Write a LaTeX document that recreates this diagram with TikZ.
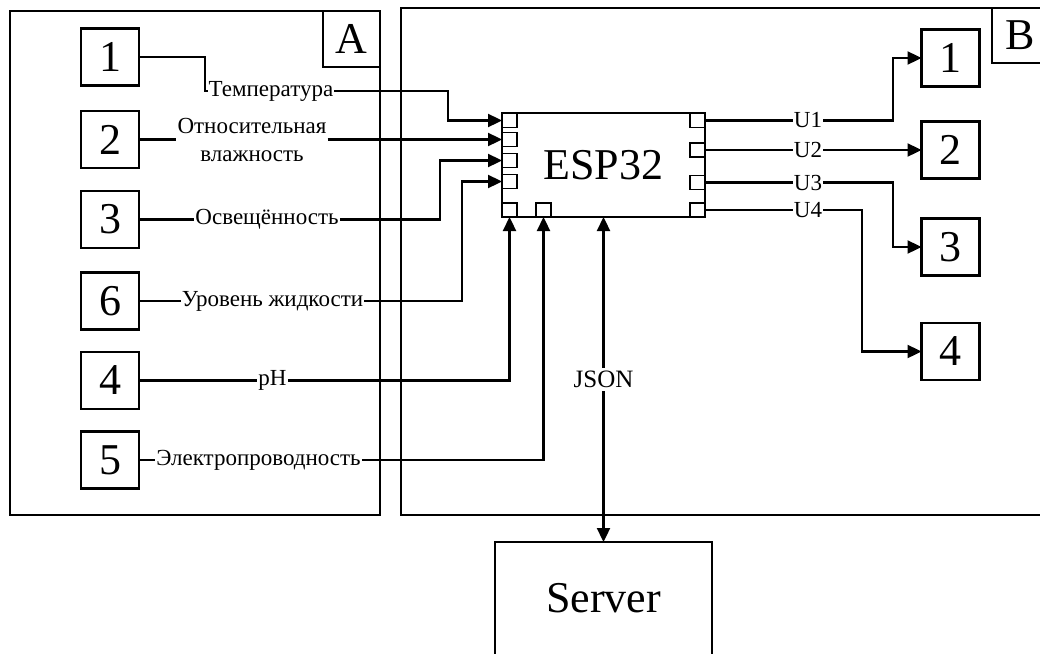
\documentclass[tikz,border=0pt]{standalone}
\usepackage{fontspec}
\setmainfont{Liberation Serif}
\usetikzlibrary{arrows.meta}

\begin{document}
\begin{tikzpicture}[
    x=1pt, y=-1pt,
    frame/.style={rectangle, draw, line width=2.4pt, inner sep=0pt, outer sep=0pt},
    tag/.style={frame, minimum width=56pt, minimum height=55pt, font=\fontsize{44}{44}\selectfont},
    unit/.style={frame, minimum width=58pt, minimum height=57pt, font=\fontsize{44}{44}\selectfont},
    pin/.style={rectangle, draw, line width=1.8pt, fill=white, minimum width=15pt, minimum height=14pt, inner sep=0pt, outer sep=0pt},
    signal/.style={font=\fontsize{23}{28}\selectfont, inner sep=1pt, align=center},
    wire/.style={line width=2.3pt},
    arrow/.style={wire, -{Triangle[length=14pt, width=13pt]}},
    dualarrow/.style={wire, {Triangle[length=14pt, width=13pt]}-{Triangle[length=14pt, width=13pt]}}
]
\useasboundingbox (0,0) rectangle (1040,653);

% Block A (sensors)
\node[frame, minimum width=370pt, minimum height=504pt] (blockA) at (195,263) {};
\node[tag, minimum width=57pt, minimum height=56pt] (tagA) at (351.5,39) {A};
\node[unit] (L1) at (110,57) {1};
\node[unit] (L2) at (110,139.5) {2};
\node[unit] (L3) at (110,219.5) {3};
\node[unit] (L6) at (110,301) {6};
\node[unit] (L4) at (110,380.5) {4};
\node[unit] (L5) at (110,460) {5};

% Block B (controller and outputs)
\node[frame, minimum width=649pt, minimum height=507pt] (blockB) at (725.5,261.5) {};
\node[tag] (tagB) at (1020,35.5) {B};
\node[frame, minimum width=203pt, minimum height=104pt, font=\fontsize{44}{44}\selectfont] (esp) at (603.5,165) {ESP32};
\node[unit] (R1) at (950.5,58) {1};
\node[unit] (R2) at (950.5,150) {2};
\node[unit] (R3) at (950.5,247) {3};
\node[unit] (R4) at (950.5,351.5) {4};

% Server
\node[frame, minimum width=217pt, minimum height=113pt, font=\fontsize{44}{44}\selectfont] (srv) at (603.5,598.5) {Server};

% ESP32 pins
\node[pin] (pL1) at (509.5,120.5) {};
\node[pin] (pL2) at (509.5,139.5) {};
\node[pin] (pL3) at (509.5,160.5) {};
\node[pin] (pL4) at (509.5,181.5) {};
\node[pin] (pB1) at (509.5,210) {};
\node[pin] (pB2) at (543.5,210) {};
\node[pin] (pR1) at (697.5,120.5) {};
\node[pin] (pR2) at (697.5,150) {};
\node[pin] (pR3) at (697.5,182.5) {};
\node[pin] (pR4) at (697.5,210) {};

% Signal labels
\node[signal] (tT) at (271,91) {Температура};
\node[signal] (tH) at (252,139.5) {Относительная\\влажность};
\node[signal] (tL) at (267,219.5) {Освещённость};
\node[signal] (tW) at (272.5,301) {Уровень жидкости};
\node[signal] (tP) at (272.5,380.5) {pH};
\node[signal] (tE) at (258.5,460) {Электропроводность};
\node[signal] (tU1) at (808,120.5) {U1};
\node[signal] (tU2) at (808,150) {U2};
\node[signal] (tU3) at (808,182.5) {U3};
\node[signal] (tU4) at (808,210) {U4};

% Inputs
\draw[wire] (L1.east) -- (205,57) |- (tT.west);
\draw[arrow] (tT.east) -- (448,91) |- (pL1.west);
\draw[wire] (L2.east) -- (tH.west);
\draw[arrow] (tH.east) -- (pL2.west);
\draw[wire] (L3.east) -- (tL.west);
\draw[arrow] (tL.east) -- (440,219.5) |- (pL3.west);
\draw[wire] (L6.east) -- (tW.west);
\draw[arrow] (tW.east) -- (462,301) |- (pL4.west);
\draw[wire] (L4.east) -- (tP.west);
\draw[arrow] (tP.east) -| (pB1.south);
\draw[wire] (L5.east) -- (tE.west);
\draw[arrow] (tE.east) -| (pB2.south);

% Outputs
\draw[wire] (pR1.east) -- (tU1.west);
\draw[arrow] (tU1.east) -- (893,120.5) |- (R1.west);
\draw[wire] (pR2.east) -- (tU2.west);
\draw[arrow] (tU2.east) -- (R2.west);
\draw[wire] (pR3.east) -- (tU3.west);
\draw[arrow] (tU3.east) -- (893,182.5) |- (R3.west);
\draw[wire] (pR4.east) -- (tU4.west);
\draw[arrow] (tU4.east) -- (862,210) |- (R4.west);

% Server link
\draw[dualarrow] (esp.south) -- (srv.north) node[midway, fill=white, font=\fontsize{25}{25}\selectfont, inner sep=3pt] (json) {JSON};

\end{tikzpicture}
\end{document}
